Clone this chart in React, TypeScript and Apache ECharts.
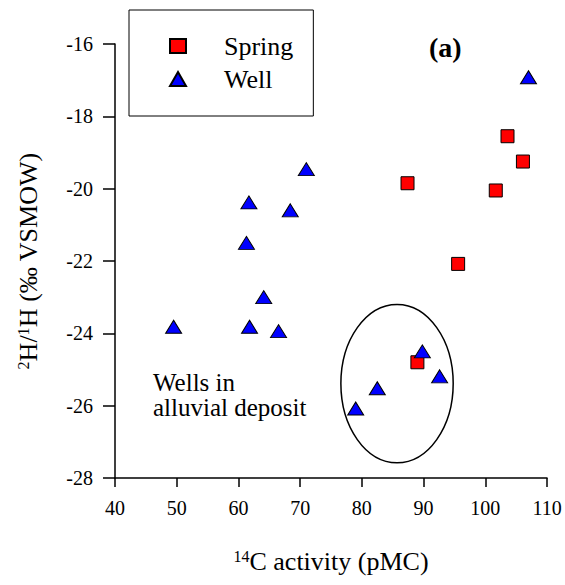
import React, { useEffect, useRef } from "react";
import * as echarts from "echarts";

const springData: number[][] = [
  [87.4, -19.85],
  [103.6, -18.55],
  [106.1, -19.25],
  [101.7, -20.05],
  [95.6, -22.08],
  [89.0, -24.8],
];

const wellData: number[][] = [
  [49.5, -23.82],
  [61.7, -20.38],
  [61.3, -21.5],
  [68.4, -20.6],
  [71.0, -19.46],
  [64.1, -23.0],
  [61.8, -23.82],
  [66.5, -23.94],
  [107.0, -16.92],
  [89.8, -24.5],
  [92.6, -25.19],
  [82.5, -25.52],
  [79.0, -26.08],
];

// center x, center y, radius x, radius y (data units)
const ellipseData: number[][] = [[85.7, -25.39, 9.1, 2.19]];

const xTicks = { min: 40, max: 110, interval: 10 };
const yTicks = { min: -28, max: -16, interval: 2 };

const FONT = "Liberation Serif";

export default function App() {
  const ref = useRef<HTMLDivElement>(null);
  useEffect(() => {
    if (!ref.current) return;
    const chart = echarts.init(ref.current, undefined, { renderer: "svg" });
    chart.setOption({
      animation: false,
      backgroundColor: "#fff",
      textStyle: { fontFamily: FONT },
      grid: { left: 115, right: 18, top: 44, bottom: 107, containLabel: false },
      legend: {
        orient: "vertical",
        left: 129,
        top: 10,
        data: ["Spring", "Well"],
        borderColor: "#000",
        borderWidth: 1,
        padding: [23, 20, 24, 40],
        itemGap: 7,
        itemWidth: 16,
        itemHeight: 14,
        textStyle: { fontSize: 26, fontFamily: FONT, color: "#000", padding: [0, 0, 0, 33] },
      },
      xAxis: {
        type: "value",
        min: xTicks.min,
        max: xTicks.max,
        interval: xTicks.interval,
        splitLine: { show: false },
        axisLine: { lineStyle: { color: "#000", width: 1.5 } },
        axisTick: { length: 9, lineStyle: { color: "#000", width: 1.5 } },
        axisLabel: { fontSize: 20, fontFamily: FONT, color: "#000", margin: 20 },
        name: "{sup|14}C activity (pMC)",
        nameLocation: "middle",
        nameGap: 70,
        nameTextStyle: {
          fontSize: 26,
          fontFamily: FONT,
          color: "#000",
          rich: { sup: { fontSize: 16, fontFamily: FONT, color: "#000", verticalAlign: "top" } },
        },
      },
      yAxis: {
        type: "value",
        min: yTicks.min,
        max: yTicks.max,
        interval: yTicks.interval,
        splitLine: { show: false },
        axisLine: { show: true, lineStyle: { color: "#000", width: 1.5 } },
        axisTick: { show: true, length: 12, lineStyle: { color: "#000", width: 1.5 } },
        axisLabel: { fontSize: 20, fontFamily: FONT, color: "#000", margin: 22 },
        name: "{sup|2}H/{sup|1}H (‰ VSMOW)",
        nameLocation: "middle",
        nameRotate: 90,
        nameGap: 74,
        nameTextStyle: {
          fontSize: 26,
          fontFamily: FONT,
          color: "#000",
          rich: { sup: { fontSize: 16, fontFamily: FONT, color: "#000", verticalAlign: "top" } },
        },
      },
      graphic: [
        {
          type: "text",
          left: 429,
          top: 33,
          style: { text: "(a)", font: `bold 28px ${FONT}`, fill: "#000" },
        },
        {
          type: "text",
          left: 153,
          top: 370,
          style: { text: "Wells in", font: `25px ${FONT}`, fill: "#000" },
        },
        {
          type: "text",
          left: 153,
          top: 395,
          style: { text: "alluvial deposit", font: `25px ${FONT}`, fill: "#000" },
        },
      ],
      series: [
        {
          type: "custom",
          silent: true,
          data: ellipseData,
          renderItem: (params: any, api: any) => {
            const c = api.coord([api.value(0), api.value(1)]);
            const s = api.size([api.value(2), api.value(3)]);
            return {
              type: "ellipse",
              shape: { cx: c[0], cy: c[1], rx: s[0], ry: s[1] },
              style: { fill: "none", stroke: "#000", lineWidth: 1.5 },
            };
          },
          z: 1,
        },
        {
          name: "Spring",
          type: "scatter",
          symbol: "rect",
          symbolSize: 13,
          data: springData,
          itemStyle: { color: "#ff0000", borderColor: "#000", borderWidth: 1, opacity: 1 },
          z: 3,
        },
        {
          name: "Well",
          type: "scatter",
          symbol: "triangle",
          symbolSize: [16, 13],
          data: wellData,
          itemStyle: { color: "#0000ff", borderColor: "#000", borderWidth: 1, opacity: 1 },
          z: 4,
        },
      ],
    });
    return () => chart.dispose();
  }, []);
  return (
    <div
      ref={ref}
      style={{ position: "absolute", left: 0, top: 0, width: 565, height: 585 }}
    />
  );
}
